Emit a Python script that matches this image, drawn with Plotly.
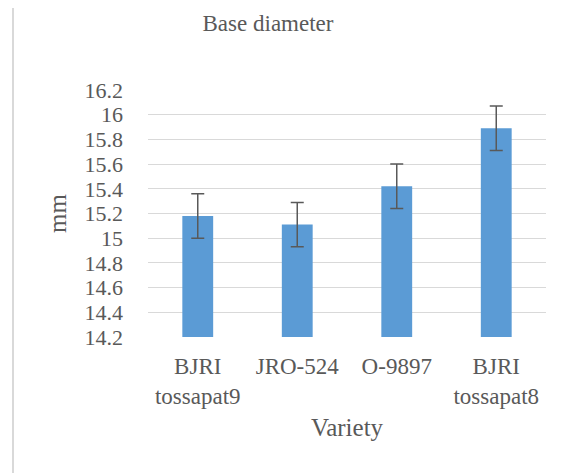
import plotly.graph_objects as go

varieties = ["BJRI<br>tossapat9", "JRO-524", "O-9897", "BJRI<br>tossapat8"]
base_diameter = [15.18, 15.11, 15.42, 15.89]
std_err = [0.18, 0.18, 0.18, 0.18]
y_ticks = [14.2, 14.4, 14.6, 14.8, 15, 15.2, 15.4, 15.6, 15.8, 16, 16.2]

TEXT = "#595959"
FONT = "Liberation Serif"

# page body has an 8px margin, so the figure is 8px smaller and shifted
trace = go.Bar(
    x=varieties,
    y=base_diameter,
    marker=dict(color="#5b9bd5", line=dict(width=0)),
    error_y=dict(type="data", array=std_err, visible=True,
                 color="#595959", thickness=1.5, width=6.5),
)

layout = go.Layout(
    width=563, height=465,
    margin=dict(l=140, r=25, t=82, b=136),
    paper_bgcolor="white", plot_bgcolor="white",
    font=dict(family=FONT, color=TEXT, size=22),
    showlegend=False,
    bargap=0.69,
    title=dict(text="Base diameter", font=dict(size=23, color=TEXT),
               xref="container", x=260 / 563, xanchor="center",
               yref="container", y=1 - 15 / 465, yanchor="middle"),
    xaxis=dict(title=dict(text="Variety", font=dict(size=25), standoff=10),
               showgrid=False, showline=False, zeroline=False,
               ticks="", ticklabelstandoff=13, tickfont=dict(size=23)),
    yaxis=dict(title=dict(text="mm", font=dict(size=25), standoff=10),
               range=[14.2, 16.2], tickvals=y_ticks,
               showgrid=True, gridcolor="#d9d9d9", gridwidth=1.2,
               zeroline=False, showline=False, ticks="",
               ticklabelstandoff=24, tickfont=dict(size=22)),
    shapes=[dict(type="rect", xref="paper", yref="paper",
                 x0=(13 - 148) / 398, x1=(590 - 148) / 398,
                 y0=(336.7 - 490) / 246.7, y1=(336.7 - 6) / 246.7,
                 line=dict(color="#d9d9d9", width=2), layer="below")],
)

fig = go.Figure(data=[trace], layout=layout)
fig.write_html("out.html")
